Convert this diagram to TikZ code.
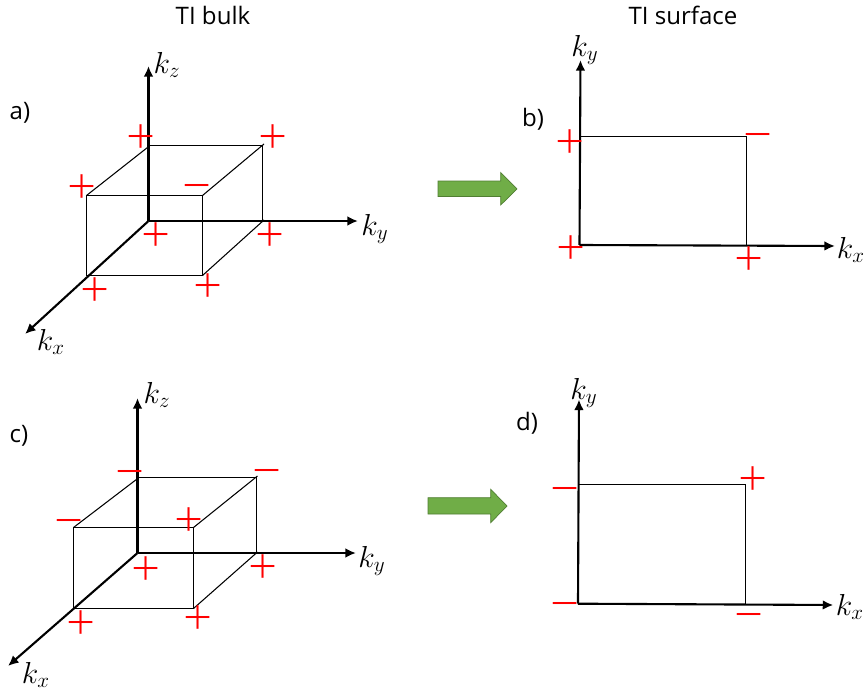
\documentclass[tikz,border=0pt]{standalone}
\usepackage{fontspec}
\setmainfont{Open Sans}
\newfontfamily\signfont{Open Sans Light}
\usetikzlibrary{arrows.meta}
\definecolor{arrowgreen}{HTML}{70AD47}
\definecolor{arrowedge}{HTML}{507E32}
\tikzset{
	axis/.style = {line width = 1.2pt, -{Latex[length = 6pt, width = 5.5pt]}},
	box/.style = {line width = 0.6pt},
	sign/.style = {red, inner sep = 0pt, anchor = base, yshift = -10pt, font = \signfont\fontsize{29}{29}\selectfont},
	label/.style = {inner sep = 0pt, font = \fontsize{13.7}{16}\selectfont},
	klabel/.style = {inner sep = 0pt, font = \fontsize{17.5}{20}\selectfont},
	bigarrow/.style = {fill = arrowgreen, draw = arrowedge, line width = 0.4pt}
}
\begin{document}
\begin{tikzpicture}[x = 0.02cm, y = -0.02cm]
		\useasboundingbox (0,0) rectangle (867,693);

		\node[label] (bulk) at (213,15) {TI bulk};
		\node[label] (surface) at (683,15) {TI surface};
		\node[label] (la) at (20,113) {a)};
		\node[label] (lb) at (533,119) {b)};
		\node[label] (lc) at (19,436) {c)};
		\node[label] (ld) at (527,423) {d)};

		\coordinate (ao) at (148.5,221);
		\coordinate (az) at (148.5,66);
		\coordinate (ay) at (358,221);
		\coordinate (ax) at (25,334);
		\coordinate (a1) at (86.5,195.5);
		\coordinate (a2) at (202.5,195.5);
		\coordinate (a3) at (202.5,275.5);
		\coordinate (a4) at (86.5,275.5);
		\coordinate (a5) at (150,145.5);
		\coordinate (a6) at (262.5,145.5);
		\coordinate (a7) at (262.5,221);
		\draw[box] (a1) -- (a2) -- (a3) -- (a4) -- cycle;
		\draw[box] (a5) -- (a6) -- (a7);
		\draw[box] (a1) -- (a5);
		\draw[box] (a2) -- (264,144);
		\draw[box] (a3) -- (264,220);
		\draw[axis] (ao) -- (az);
		\draw[axis] (ao) -- (ay);
		\draw[axis] (ao) -- (ax);
		\node[klabel] (akz) at (167,65) {$k_z$};
		\node[klabel] (aky) at (375,229) {$k_y$};
		\node[klabel] (akx) at (51,342) {$k_x$};
		\node[sign] (as1) at (141,137) {+};
		\node[sign] (as2) at (273,137) {+};
		\node[sign] (as3) at (82,187) {+};
		\node[sign] (as4) at (197.5,186) {−};
		\node[sign] (as5) at (156,235) {+};
		\node[sign] (as6) at (270,235) {+};
		\node[sign] (as7) at (95,290) {+};
		\node[sign] (as8) at (208,286) {+};

		\coordinate (bo) at (579.5,245);
		\coordinate (by) at (580.5,60);
		\coordinate (bx) at (835,246);
		\coordinate (b1) at (579.5,136.5);
		\coordinate (b2) at (746.5,136.5);
		\coordinate (b3) at (746.5,245);
		\draw[box] (b1) -- (b2) -- (b3);
		\draw[axis] (bo) -- (by);
		\draw[axis] (bo) -- (bx);
		\node[klabel] (bky) at (585,50) {$k_y$};
		\node[klabel] (bkx) at (851,250) {$k_x$};
		\node[sign] (bs1) at (570,142) {+};
		\node[sign] (bs2) at (757.7,135) {−};
		\node[sign] (bs3) at (571,248) {+};
		\node[sign] (bs4) at (749,259) {+};
		\draw[bigarrow] (438,181) -- (500.7,181) -- (500.7,172.5) -- (517,189) -- (500.7,205) -- (500.7,196.5) -- (438,196.5) -- cycle;

		\coordinate (co) at (137.5,553);
		\coordinate (cz) at (137.5,398);
		\coordinate (cy) at (356,553);
		\coordinate (cx) at (8,666);
		\coordinate (c1) at (73.5,527.5);
		\coordinate (c2) at (193.5,527.5);
		\coordinate (c3) at (193.5,608.5);
		\coordinate (c4) at (73.5,608.5);
		\coordinate (c5) at (139,477.5);
		\coordinate (c6) at (256.5,477.5);
		\coordinate (c7) at (256.5,553);
		\draw[box] (c1) -- (c2) -- (c3) -- (c4) -- cycle;
		\draw[box] (c5) -- (c6) -- (c7);
		\draw[box] (c1) -- (c5);
		\draw[box] (c2) -- (257.5,476);
		\draw[box] (c3) -- (257.5,552);
		\draw[axis] (co) -- (cz);
		\draw[axis] (co) -- (cy);
		\draw[axis] (co) -- (cx);
		\node[klabel] (ckz) at (157,395) {$k_z$};
		\node[klabel] (cky) at (372,561) {$k_y$};
		\node[klabel] (ckx) at (36,675) {$k_x$};
		\node[sign] (cs1) at (130,471.5) {−};
		\node[sign] (cs2) at (267,471.3) {−};
		\node[sign] (cs3) at (68.7,520.7) {−};
		\node[sign] (cs4) at (188.7,519.7) {+};
		\node[sign] (cs5) at (145.7,568.7) {+};
		\node[sign] (cs6) at (263,566.7) {+};
		\node[sign] (cs7) at (81,623.3) {+};
		\node[sign] (cs8) at (198,617.7) {+};

		\coordinate (do) at (578,603.7);
		\coordinate (dy) at (579,399.5);
		\coordinate (dx) at (833.3,605);
		\coordinate (d1) at (578,484.5);
		\coordinate (d2) at (745.5,484.5);
		\coordinate (d3) at (745.5,603.7);
		\draw[box] (d1) -- (d2) -- (d3);
		\draw[axis] (do) -- (dy);
		\draw[axis] (do) -- (dx);
		\node[klabel] (dky) at (584,393) {$k_y$};
		\node[klabel] (dkx) at (850,607) {$k_x$};
		\node[sign] (ds1) at (565,488.7) {−};
		\node[sign] (ds2) at (752.7,478.7) {+};
		\node[sign] (ds3) at (564.7,604) {−};
		\node[sign] (ds4) at (748.7,614.7) {−};
		\draw[bigarrow] (428,497.7) -- (490.7,497.7) -- (490.7,489.3) -- (507,506) -- (490.7,522.7) -- (490.7,514) -- (428,514) -- cycle;
\end{tikzpicture}
\end{document}
